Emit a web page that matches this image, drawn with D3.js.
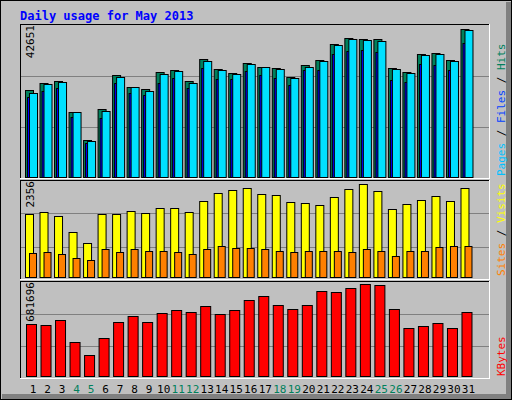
<!DOCTYPE html>
<html><head><meta charset="utf-8">
<script src="https://cdn.jsdelivr.net/npm/d3@7"></script>
<style>body{margin:0;background:#fff}svg{display:block}text{font-family:"DejaVu Sans Mono",monospace}</style>
</head><body><svg id="c" width="512" height="400"></svg>
<script>
const days = d3.range(1, 32);
const weekend = [4,5,11,12,18,19,25,26];
const hits  = [24412,26376,26938,18239,10382,19081,28621,25254,24693,29463,30024,26938,33111,30305,29182,31988,30866,30585,28060,31427,32830,37320,39003,38723,38723,30585,29463,34514,34794,32830,41529];
const files = [23570,26096,26657,18239,10102,18520,28060,25254,24132,28902,29744,26376,32550,30024,28902,31708,30866,30305,27779,30866,32550,37039,38723,38442,38162,30305,29182,34233,34514,32550,41248];
const pages = [22448,24132,24973,16836,9540,16555,26376,23570,23009,26376,27779,24973,30585,27499,27499,29744,28621,27779,25815,30024,30024,34514,35356,35636,35075,27218,26657,31708,31427,30024,37600];
const visits = [1539,1588,1490,1112,827,1539,1539,1612,1563,1686,1686,1588,1858,2054,2128,2177,2029,2005,1833,1809,1760,1956,2152,2275,2103,1661,1784,1882,1980,1858,2177];
const sites  = [582,606,557,459,410,680,606,680,631,631,606,557,680,753,704,704,680,631,606,631,631,631,606,680,631,508,631,631,729,753,753];
const kbytes = [371000,364000,400000,242000,149000,271000,385000,428000,385000,450000,471000,457000,500000,443000,471000,543000,572000,507000,479000,507000,608000,601000,629000,658000,651000,479000,342000,357000,378000,342000,457000];
const maxHits = 42651, maxVisits = 2356, maxKB = 681696;

const svg = d3.select("#c");
// frame
svg.append("rect").attr("x",0).attr("y",0).attr("width",512).attr("height",400).attr("fill","#c0c0c0");
svg.append("rect").attr("x",506).attr("y",2).attr("width",5).attr("height",397).attr("fill","#808080");
svg.append("rect").attr("x",2).attr("y",394).attr("width",509).attr("height",5).attr("fill","#808080");
svg.append("rect").attr("x",0.5).attr("y",0.5).attr("width",511).attr("height",399).attr("fill","none").attr("stroke","#000");
svg.append("text").attr("x",20).attr("y",20).attr("fill","#0000ff").attr("font-size",12).attr("font-weight","bold").text("Daily usage for May 2013");

const x = d3.scaleBand().domain(days).range([22,472]).paddingInner(0);
const L=20, R=490;
function panel(top,bot){
  svg.append("rect").attr("x",L+0.5).attr("y",top+0.5).attr("width",R-L-1).attr("height",bot-top-1).attr("fill","#c0c0c0");
  svg.append("line").attr("x1",L+0.5).attr("x2",R-0.5).attr("y1",top+0.5).attr("y2",top+0.5).attr("stroke","#000");
  svg.append("line").attr("x1",L+0.5).attr("x2",L+0.5).attr("y1",top).attr("y2",bot).attr("stroke","#000");
  svg.append("line").attr("x1",R-0.5).attr("x2",R-0.5).attr("y1",top).attr("y2",bot).attr("stroke","#fff");
  svg.append("line").attr("x1",L).attr("x2",R).attr("y1",bot-0.5).attr("y2",bot-0.5).attr("stroke","#fff");
  const h=(bot-top)/3;
  [1,2].forEach(i=>svg.append("line").attr("x1",L+1).attr("x2",R-1).attr("y1",Math.round(top+h*i)+0.5).attr("y2",Math.round(top+h*i)+0.5).attr("stroke","#808080"));
}
function bars(data,y,dx,w,fill){
  svg.append("g").selectAll("rect").data(data).join("rect")
    .attr("x",(d,i)=>x(days[i])+dx+0.5).attr("y",d=>Math.round(y(d))+0.5)
    .attr("width",w).attr("height",d=>y(0)-Math.round(y(d)))
    .attr("fill",fill).attr("stroke","#000");
}
function vlabel(xp,yp,parts,anchor){
  const t=svg.append("text").attr("transform",`translate(${xp},${yp}) rotate(-90)`).attr("font-size",11).attr("text-anchor",anchor||"start");
  parts.forEach(p=>t.append("tspan").attr("fill",p[1]).text(p[0]));
}
// panel 1
panel(24,179);
const y1=d3.scaleLinear().domain([0,maxHits]).range([177,25]);
bars(hits,y1,3,8,"#00805c");
bars(pages,y1,5,8,"#0000ff");
bars(files,y1,7,8,"#00e0ff");
vlabel(34,25,[["42651","#000"]],"end");
vlabel(505,176,[["Pages","#00c0ff"],[" / ","#000"],["Files","#0040ff"],[" / ","#000"],["Hits","#00805c"]]);
// panel 2
panel(180,280);
const y2=d3.scaleLinear().domain([0,maxVisits]).range([277,181]);
bars(visits,y2,3,8,"#ffff00");
bars(sites,y2,7,7,"#ff8000");
vlabel(34,181,[["2356","#000"]],"end");
vlabel(505,276,[["Sites","#ff8000"],[" / ","#000"],["Visits","#ffff00"]]);
// panel 3
panel(281,379);
const y3=d3.scaleLinear().domain([0,maxKB]).range([376,281]);
bars(kbytes,y3,4,10,"#ff0000");
vlabel(34,282,[["681696","#000"]],"end");
vlabel(505,376,[["KBytes","#ff0000"]]);
// day labels
svg.append("g").selectAll("text").data(days).join("text")
  .attr("x",d=>x(d)+11).attr("y",393).attr("text-anchor","middle").attr("font-size",11)
  .attr("fill",d=>weekend.includes(d)?"#00805c":"#000").text(d=>d);
</script></body></html>
